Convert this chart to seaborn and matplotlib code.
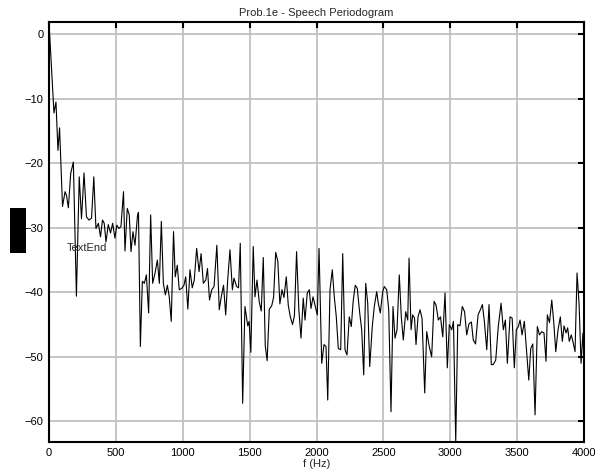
import numpy as np
import pandas as pd
import seaborn as sns
import matplotlib
matplotlib.use("Agg")
import matplotlib.pyplot as plt
from matplotlib.patches import Rectangle

# periodogram (frequency in Hz, power in dB)
freq_hz = [
    0, 37, 52, 67, 79, 101, 120, 131, 145, 162, 182, 205, 226, 243, 262, 280,
    299, 318, 335, 351, 369, 385, 400, 413, 426, 443, 460, 476, 493, 507, 523,
    538, 557, 568, 585, 600, 613, 628, 643, 662, 669, 683, 698, 713, 728, 745,
    760, 775, 793, 810, 825, 840, 855, 870, 885, 899, 914, 931, 944, 959, 974,
    992, 1009, 1022, 1038, 1054, 1071, 1086, 1104, 1122, 1137, 1154, 1172, 1185,
    1200, 1217, 1234, 1255, 1273, 1288, 1305, 1321, 1336, 1353, 1371, 1383, 1403,
    1417, 1430, 1448, 1465, 1486, 1496, 1509, 1527, 1540, 1555, 1572, 1587, 1602,
    1617, 1631, 1647, 1665, 1679, 1695, 1711, 1726, 1742, 1757, 1774, 1789, 1804,
    1821, 1835, 1851, 1868, 1884, 1901, 1914, 1931, 1946, 1959, 1974, 1989, 2006,
    2019, 2039, 2056, 2071, 2084, 2101, 2118, 2133, 2148, 2163, 2181, 2196, 2213,
    2228, 2245, 2260, 2275, 2290, 2305, 2323, 2338, 2353, 2368, 2383, 2398, 2417,
    2432, 2450, 2462, 2477, 2495, 2507, 2525, 2540, 2557, 2572, 2587, 2602, 2619,
    2634, 2649, 2667, 2682, 2692, 2707, 2719, 2733, 2744, 2759, 2774, 2789, 2809,
    2824, 2843, 2861, 2879, 2894, 2911, 2927, 2944, 2961, 2978, 2993, 3011, 3024,
    3041, 3056, 3073, 3090, 3107, 3123, 3140, 3158, 3172, 3189, 3208, 3225, 3240,
    3255, 3273, 3290, 3307, 3322, 3340, 3359, 3380, 3397, 3412, 3427, 3447, 3463,
    3479, 3494, 3509, 3522, 3537, 3554, 3572, 3587, 3602, 3617, 3634, 3651, 3667,
    3684, 3701, 3716, 3726, 3742, 3759, 3774, 3789, 3806, 3823, 3838, 3851, 3866,
    3878, 3890, 3905, 3920, 3933, 3948, 3963, 3978, 3992, 4000,
]
psd_db = [
    1.9, -12.2, -10.5, -18.0, -14.5, -26.7, -24.4, -25.0, -26.9, -21.6, -19.8,
    -40.6, -22.1, -28.6, -21.5, -28.3, -28.8, -28.5, -22.1, -30.1, -29.3, -31.4,
    -28.8, -29.3, -32.2, -29.5, -30.8, -29.3, -31.6, -29.6, -30.1, -29.8, -24.4,
    -33.6, -27.0, -28.0, -33.7, -30.6, -32.7, -28.0, -27.6, -48.4, -38.3, -38.6,
    -37.3, -43.2, -28.0, -38.6, -37.0, -35.0, -38.6, -29.0, -38.6, -40.4, -38.9,
    -40.7, -44.5, -30.6, -37.6, -35.8, -39.6, -39.4, -38.9, -37.6, -42.6, -36.5,
    -39.3, -38.1, -33.2, -36.8, -34.0, -38.6, -38.1, -36.3, -41.2, -39.6, -39.1,
    -32.7, -42.7, -40.7, -38.9, -43.5, -38.1, -33.4, -39.6, -37.8, -39.1, -39.3,
    -32.4, -57.2, -42.2, -45.2, -44.5, -49.3, -32.9, -40.7, -38.1, -41.5, -42.9,
    -34.6, -48.3, -50.6, -42.6, -42.1, -40.8, -33.8, -35.2, -41.8, -39.6, -40.8,
    -37.6, -42.0, -43.8, -45.0, -43.6, -33.7, -42.7, -47.1, -40.9, -44.3, -40.1,
    -39.6, -42.5, -40.7, -42.0, -43.5, -33.2, -51.0, -48.1, -48.4, -56.7, -39.6,
    -36.5, -40.7, -43.8, -48.7, -48.9, -34.0, -48.9, -49.7, -43.8, -45.3, -41.2,
    -38.9, -39.4, -43.2, -45.8, -52.8, -38.6, -41.7, -51.5, -45.3, -42.2, -39.9,
    -41.7, -43.2, -39.9, -39.1, -39.6, -42.7, -58.5, -42.2, -47.1, -45.8, -37.3,
    -43.8, -47.4, -43.0, -44.3, -34.7, -45.8, -43.5, -44.0, -48.1, -43.8, -42.7,
    -44.0, -55.6, -46.1, -48.4, -50.0, -41.4, -42.0, -44.3, -43.8, -46.9, -40.1,
    -51.7, -45.0, -45.8, -44.5, -63.2, -45.0, -45.2, -42.2, -43.0, -46.6, -44.9,
    -44.6, -47.4, -48.0, -43.5, -42.7, -41.9, -44.5, -48.9, -41.9, -51.2, -51.2,
    -50.5, -45.3, -41.7, -45.8, -44.3, -51.0, -43.8, -44.0, -51.7, -45.8, -45.3,
    -44.3, -46.6, -44.5, -49.4, -53.6, -48.7, -48.0, -59.0, -45.3, -46.6, -46.1,
    -46.3, -50.7, -43.5, -44.7, -41.2, -44.7, -49.2, -45.8, -43.8, -47.6, -45.2,
    -46.3, -45.5, -47.6, -46.6, -47.9, -49.2, -37.0, -41.7, -51.0, -46.3, -50.8,
]
x_ticks = [0, 500, 1000, 1500, 2000, 2500, 3000, 3500, 4000]
y_ticks = [-60, -50, -40, -30, -20, -10, 0]


def main():
    sns.set_style("whitegrid")
    plt.rcParams['font.family'] = ['Liberation Sans', 'DejaVu Sans']

    df = pd.DataFrame({'f': freq_hz, 'p': psd_db})

    fig = plt.figure(figsize=(5.95, 4.75), dpi=100)
    ax = fig.add_axes([49 / 595, 1 - 442 / 475, 535 / 595, 420 / 475])

    sns.lineplot(data=df, x='f', y='p', ax=ax, color='black', linewidth=0.8,
                 estimator=None, sort=False)

    # matlab-ish "axis tight" in y
    ax.set_xlim(0, 4000)
    ax.set_ylim(min(psd_db), max(psd_db))
    ax.set_xticks(x_ticks)
    ax.set_yticks(y_ticks)
    ax.grid(True, color='#c0c0c0', linewidth=1.3, linestyle='-')
    ax.set_axisbelow(True)
    for s in ax.spines.values():
        s.set_color('black')
        s.set_linewidth(1.5)
        s.set_visible(True)
    ax.tick_params(direction='in', length=4, width=1.5, top=True, right=True,
                   labelsize=8, color='black', labelcolor='black', pad=4)

    ax.set_title('Prob.1e - Speech Periodogram', fontsize=8, pad=4)
    ax.set_xlabel('f (Hz)', fontsize=8, labelpad=1)
    ax.set_ylabel('')

    # stray label bits from the original export
    fig.patches.append(Rectangle((10 / 595, 1 - 253 / 475), 16 / 595, 45.5 / 475,
                                 transform=fig.transFigure, facecolor='black',
                                 edgecolor='none'))
    fig.text(67 / 595, 1 - 248 / 475, 'TextEnd', fontsize=8, va='center', ha='left')

    plt.savefig('out.png', dpi=100)
    plt.close()


if __name__ == "__main__":
    main()
